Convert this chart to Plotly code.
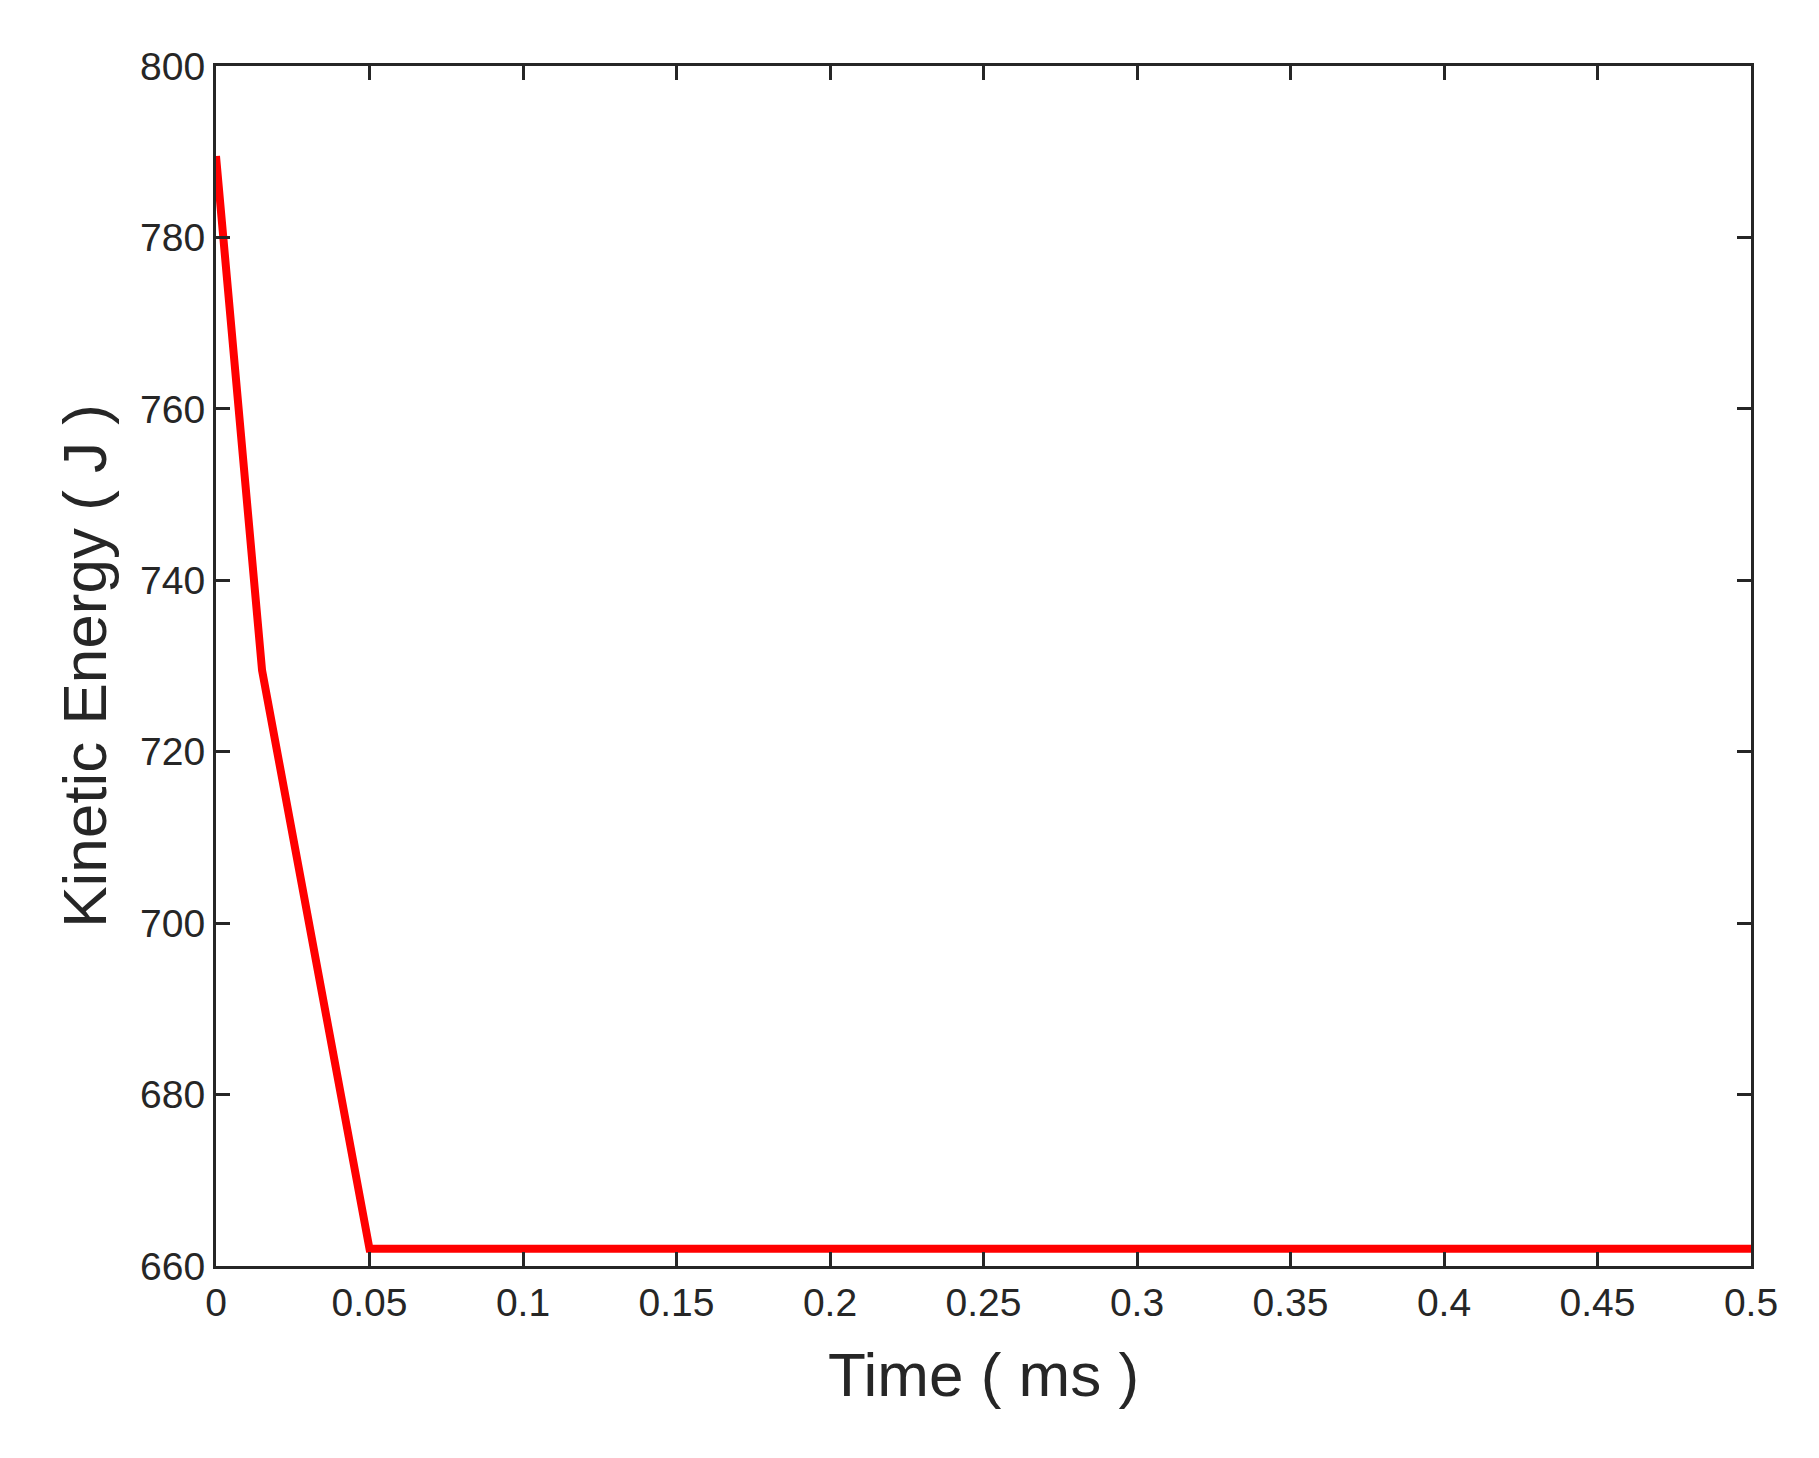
import plotly.graph_objects as go

time_ms = [0, 0.015, 0.05, 0.5]
kinetic_energy = [789.5, 729.5, 662, 662]

fig = go.Figure()
fig.add_trace(go.Scatter(
    x=time_ms, y=kinetic_energy, mode="lines",
    line=dict(color="#ff0000", width=8),
    showlegend=False, cliponaxis=False,
))

axis_style = dict(
    showgrid=False, zeroline=False,
    showline=True, linecolor="#262626", linewidth=3,
    mirror="allticks", ticks="inside", ticklen=14, tickwidth=3, tickcolor="#262626",
    tickfont=dict(size=39, color="#262626"),
)

fig.update_layout(
    width=1819, height=1458,
    plot_bgcolor="white", paper_bgcolor="white",
    font=dict(family="Liberation Sans, Arial", color="#262626"),
    margin=dict(l=208, r=76, t=58, b=200),
    xaxis=dict(range=[0, 0.5], dtick=0.05, tickformat="~g",
               title=dict(text="Time ( ms )", font=dict(size=62), standoff=30),
               **axis_style),
    yaxis=dict(range=[660, 800], dtick=20,
               title=dict(text="Kinetic Energy ( J )", font=dict(size=62), standoff=14),
               **axis_style),
)

fig.write_html("out.html")
